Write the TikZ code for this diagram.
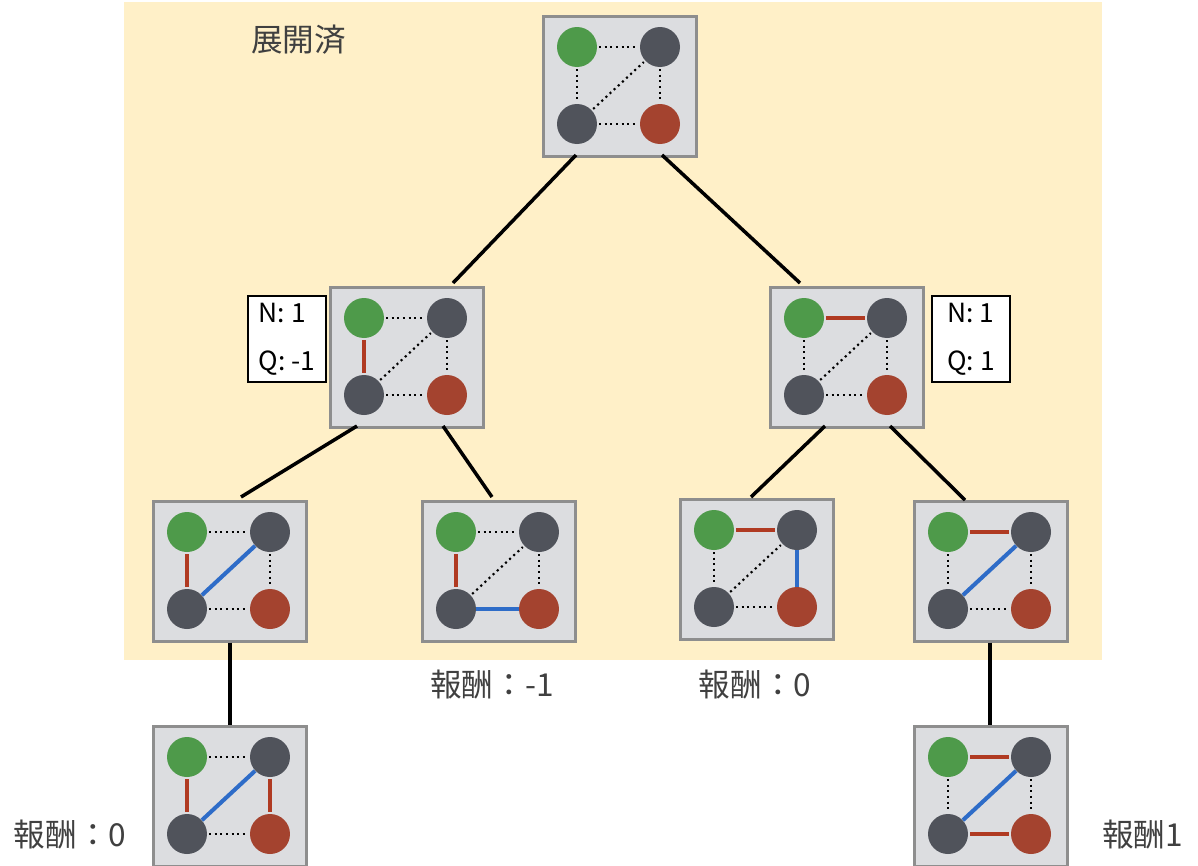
\documentclass[tikz,border=0pt]{standalone}
\usepackage{fontspec}
\setmainfont{Noto Sans CJK JP}
\usetikzlibrary{positioning}
\definecolor{bgyellow}{HTML}{FFF0C8}
\definecolor{boxgray}{HTML}{DCDDE0}
\definecolor{boxline}{HTML}{8E8E8E}
\definecolor{stgreen}{HTML}{4E9A4A}
\definecolor{stdark}{HTML}{50535B}
\definecolor{stred}{HTML}{A4432F}
\definecolor{edred}{HTML}{B03A22}
\definecolor{edblue}{HTML}{2E6CC8}
\tikzset{
  board/.style={draw=boxline,fill=boxgray,line width=1.5pt,minimum width=3.06cm,minimum height=2.8cm,inner sep=0pt,anchor=north west},
  stone/.style={circle,minimum size=0.8cm,inner sep=0pt},
  dt/.style={dotted,line width=1.2pt,shorten <=1pt,shorten >=1pt},
  rd/.style={edred,line width=2.3pt,shorten <=1pt,shorten >=1pt},
  bl/.style={edblue,line width=2.3pt,shorten <=0pt,shorten >=0pt},
  tree/.style={line width=2pt},
  info/.style={draw,fill=white,line width=1.2pt,minimum width=1.56cm,minimum height=1.72cm,anchor=north west,align=left,font=\fontsize{15}{27}\selectfont},
  lbl/.style={font=\fontsize{18}{20}\selectfont,text=black!75}
}
% #1 name, #2 x, #3 y, #4 g-d1, #5 g-d2, #6 d1-r, #7 d2-r, #8 d2-d1
\newcommand{\board}[8]{
  \node[board] (#1) at (#2,#3) {};
  \node[stone,fill=stgreen] (#1g) at (#2+35,#3+32) {};
  \node[stone,fill=stdark] (#1a) at (#2+118,#3+32) {};
  \node[stone,fill=stdark] (#1b) at (#2+35,#3+109) {};
  \node[stone,fill=stred] (#1r) at (#2+118,#3+109) {};
  \draw[#4] (#1g) -- (#1a);
  \draw[#5] (#1g) -- (#1b);
  \draw[#6] (#1a) -- (#1r);
  \draw[#7] (#1b) -- (#1r);
  \draw[#8] (#1b) -- (#1a);
}
\begin{document}
\begin{tikzpicture}[x=0.02cm,y=-0.02cm]
\useasboundingbox (0,0) rectangle (1198,866);
\fill[bgyellow] (124,2) rectangle (1102,660);
\node[lbl,anchor=west] (done) at (245,40) {展開済};

\board{top}{542}{15}{dt}{dt}{dt}{dt}{dt}
\board{la}{329}{286}{dt}{rd}{dt}{dt}{dt}
\board{ra}{769}{286}{rd}{dt}{dt}{dt}{dt}
\board{laa}{152}{500}{dt}{rd}{dt}{dt}{bl}
\board{lab}{421}{500}{dt}{rd}{dt}{bl}{dt}
\board{raa}{679}{498}{rd}{dt}{bl}{dt}{dt}
\board{rab}{913}{500}{rd}{dt}{dt}{dt}{bl}
\board{laaa}{152}{725}{dt}{rd}{rd}{dt}{bl}
\board{raba}{913}{725}{rd}{dt}{dt}{rd}{bl}

\node[info] (qla) at (247,295) {N: 1\\Q: -1};
\node[info] (qra) at (931,295) {N: 1\\Q: 1};

% tree edges
\coordinate (c1) at (453,283); \coordinate (c2) at (800,283);
\draw[tree] (576,155) -- (c1);
\draw[tree] (662,155) -- (c2);
\draw[tree] (357,426) -- (241,497);
\draw[tree] (443,426) -- (492,497);
\draw[tree] (825,426) -- (751,497);
\draw[tree] (890,426) -- (965,500);
\draw[tree] (laa.south -| 230,0) -- (laaa.north -| 230,0);
\draw[tree] (rab.south -| 990,0) -- (raba.north -| 990,0);

\node[lbl] (rw1) at (492,685) {報酬：-1};
\node[lbl] (rw2) at (755,685) {報酬：0};
\node[lbl] (rw3) at (70,835) {報酬：0};
\node[lbl,anchor=west] (rw4) at (1096,835) {報酬1};
\end{tikzpicture}
\end{document}
